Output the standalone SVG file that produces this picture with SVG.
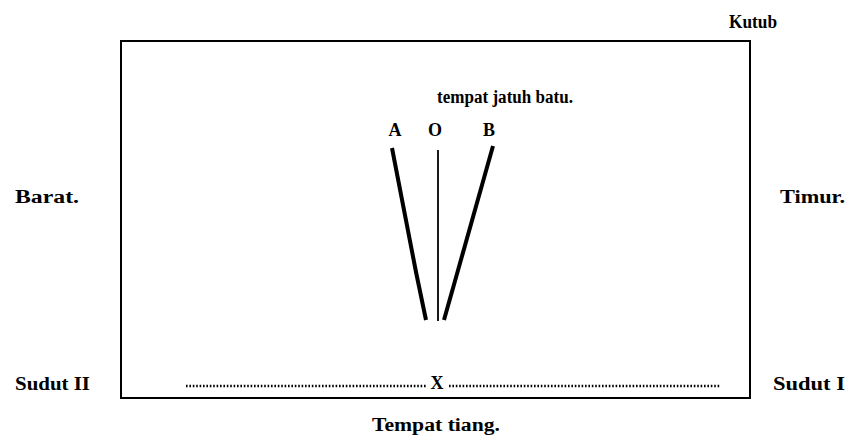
<svg xmlns="http://www.w3.org/2000/svg" width="852" height="441" viewBox="0 0 852 441">
<style>
text{font-family:"Liberation Serif","Times New Roman",serif;font-weight:bold;font-size:18px;fill:#000}
.frame{fill:none;stroke:#000;stroke-width:2}
.thick{fill:none;stroke:#000;stroke-width:4;stroke-linecap:butt}
.thin{fill:none;stroke:#000;stroke-width:1.8}
.dot{fill:none;stroke:#000;stroke-width:2.4;stroke-dasharray:1.6 1.8}
</style>
<rect width="852" height="441" fill="#fff"/>
<g id="frame"><rect class="frame" x="121" y="41" width="629" height="357"/></g>
<g id="labels">
<text x="729" y="28" textLength="48" lengthAdjust="spacingAndGlyphs">Kutub</text>
<text x="437" y="103" textLength="136" lengthAdjust="spacingAndGlyphs">tempat jatuh batu.</text>
<text x="395" y="136" text-anchor="middle">A</text>
<text x="435" y="136" text-anchor="middle">O</text>
<text x="489" y="136" text-anchor="middle">B</text>
<text x="15" y="203" textLength="64" lengthAdjust="spacingAndGlyphs">Barat.</text>
<text x="780" y="203" textLength="65" lengthAdjust="spacingAndGlyphs">Timur.</text>
<text x="15" y="390" textLength="75" lengthAdjust="spacingAndGlyphs">Sudut II</text>
<text x="773" y="390" textLength="72" lengthAdjust="spacingAndGlyphs">Sudut I</text>
<text x="437" y="389" text-anchor="middle" font-size="20">X</text>
<text x="372" y="431" textLength="128" lengthAdjust="spacingAndGlyphs">Tempat tiang.</text>
</g>
<g id="connectors">
<path class="thick" d="M392 148 L416 272 L426 320"/>
<line class="thin" x1="438" y1="150" x2="438" y2="321"/>
<path class="thick" d="M493 146 L444 320"/>
<line class="dot" x1="186" y1="386" x2="427" y2="386"/>
<line class="dot" x1="449" y1="386" x2="720" y2="386"/>
</g>
</svg>
